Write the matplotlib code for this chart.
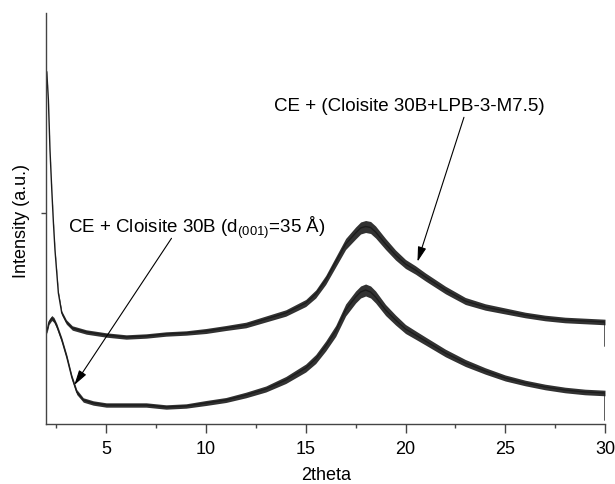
import matplotlib
matplotlib.use("Agg")
import matplotlib.pyplot as plt
import numpy as np

plt.rcParams['font.family'] = ['Liberation Sans', 'DejaVu Sans']
plt.rcParams['mathtext.fontset'] = 'custom'
plt.rcParams['mathtext.rm'] = 'Liberation Sans'
plt.rcParams['mathtext.it'] = 'Liberation Sans:italic'

# ---- data (arbitrary intensity units) ----
top_x = [2.02, 2.10, 2.18, 2.27, 2.35, 2.43, 2.60, 2.77, 3.00, 3.30, 4.0, 5.0, 6.0, 7.0, 8.0,
         9.0, 10.0, 11.0, 12.0, 13.0, 14.0, 15.0, 15.5, 16.0, 16.5, 17.0, 17.5, 17.75, 18.0,
         18.25, 18.5, 19.0, 19.5, 20.0, 20.5, 21.0, 22.0, 23.0, 24.0, 25.0, 26.0, 27.0, 28.0,
         29.0, 30.0, 30.0]
top_y = [3520, 3240, 2740, 2340, 2020, 1740, 1310, 1110, 1020, 960, 920, 890, 870, 880, 900,
         910, 930, 960, 990, 1050, 1110, 1210, 1300, 1440, 1620, 1800, 1910, 1960, 1975,
         1965, 1920, 1800, 1690, 1600, 1540, 1470, 1340, 1230, 1170, 1130, 1090, 1060, 1040,
         1030, 1020, 780]
top_spread = [5, 5, 5, 8, 10, 12, 15, 20, 22, 22, 22, 22, 22, 22, 22,
              22, 25, 25, 28, 30, 32, 35, 40, 45, 50, 55, 60, 60, 60,
              60, 60, 55, 50, 45, 42, 40, 38, 35, 32, 30, 28, 28, 28,
              28, 28, 0]

bot_x = [2.02, 2.13, 2.27, 2.38, 2.52, 2.77, 3.02, 3.27, 3.52, 3.85, 4.35, 5.0, 6.0, 7.0, 8.0,
         9.0, 10.0, 11.0, 12.0, 13.0, 14.0, 15.0, 15.5, 16.0, 16.5, 17.0, 17.5, 17.75, 18.0,
         18.25, 18.5, 19.0, 19.5, 20.0, 20.5, 21.0, 22.0, 23.0, 24.0, 25.0, 26.0, 27.0, 28.0,
         29.0, 30.0, 30.0]
bot_y = [920, 1020, 1060, 1040, 980, 840, 670, 470, 320, 240, 210, 190, 190, 190, 170,
         180, 210, 240, 290, 350, 440, 560, 650, 780, 930, 1140, 1270, 1320, 1340,
         1320, 1270, 1140, 1040, 950, 890, 830, 710, 610, 530, 460, 410, 370, 340,
         320, 310, 40]
bot_spread = [20, 25, 25, 25, 25, 25, 25, 25, 25, 22, 22, 22, 22, 22, 22,
              22, 25, 25, 28, 30, 35, 40, 45, 50, 55, 60, 60, 60, 60,
              60, 60, 55, 50, 45, 42, 40, 38, 35, 32, 30, 28, 28, 28,
              28, 28, 0]

x_major = [5, 10, 15, 20, 25, 30]
x_minor = [2.5, 7.5, 12.5, 17.5, 22.5, 27.5]
y_ticks = [2110]

label_top = "CE + (Cloisite 30B+LPB-3-M7.5)"
label_bot = r"CE + Cloisite 30B (d$_{\mathrm{(001)}}$=35 Å)"

# ---- figure ----
fig = plt.figure(figsize=(6.15, 4.84), dpi=100)
ax = fig.add_axes([46.4 / 615, (484 - 424) / 484, (605 - 46.4) / 615, (424 - 13) / 484])

line_c = '#1c1c1c'
for xs, ys, sp in [(top_x, top_y, top_spread), (bot_x, bot_y, bot_spread)]:
    xs = np.asarray(xs, float)
    ys = np.asarray(ys, float)
    sp = np.asarray(sp, float)
    ax.fill_between(xs, ys - sp, ys + sp, color=line_c, lw=0, alpha=0.9)
    ax.plot(xs, ys, color=line_c, lw=1.0)

ax.set_xlim(2, 30)
ax.set_ylim(0, 4110)

for s in ['top', 'right']:
    ax.spines[s].set_visible(False)
for s in ['left', 'bottom']:
    ax.spines[s].set_color('#444444')
    ax.spines[s].set_linewidth(1.0)

ax.set_xticks(x_major)
ax.set_xticks(x_minor, minor=True)
ax.set_yticks(y_ticks)
ax.set_yticklabels([])
ax.tick_params(axis='x', which='major', direction='out', length=6.5, width=1.0,
               color='#444444', labelsize=13, pad=6)
ax.tick_params(axis='x', which='minor', direction='out', length=3.2, width=1.0, color='#444444')
ax.tick_params(axis='y', which='major', direction='out', length=3.6, width=1.0, color='#444444')

ax.set_xlabel('2theta', fontsize=13, labelpad=6.5)
ax.set_ylabel('Intensity (a.u.)', fontsize=13, va='center')
ax.yaxis.set_label_coords((22 - 46.4) / 558.6, (424 - 221.5) / 411)

arrow_kw = dict(arrowstyle='-|>,head_length=0.6,head_width=0.17', mutation_scale=15,
                lw=0.8, color='black', shrinkA=0, shrinkB=0)

ax.text(20.18, 3130, label_top, fontsize=13.5, ha='center', va='baseline')
ax.annotate('', xy=(20.6, 1623), xytext=(22.93, 3067), arrowprops=arrow_kw)

ax.text(3.1, 1907, label_bot, fontsize=13.5, ha='left', va='baseline')
ax.annotate('', xy=(3.4, 390), xytext=(8.27, 1857), arrowprops=arrow_kw)

fig.savefig('out.png', dpi=100)
